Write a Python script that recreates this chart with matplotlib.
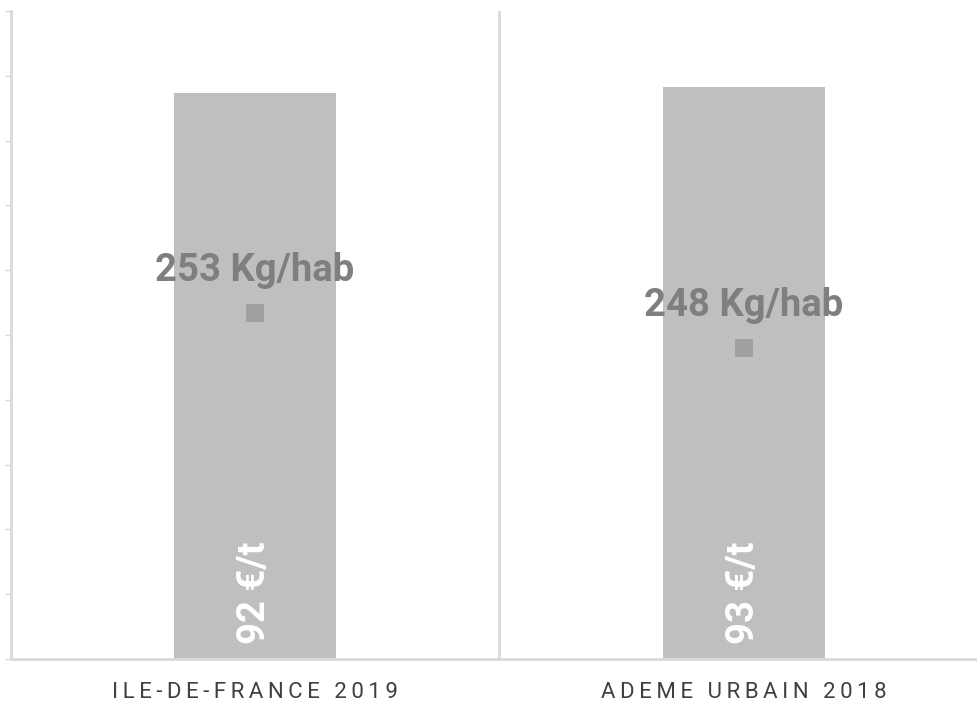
import matplotlib.pyplot as plt
import numpy as np

categories = ['ILE-DE-FRANCE 2019', 'ADEME URBAIN 2018']
cost_per_t = [92, 93]          # bars, €/t
kg_per_hab = [253, 248]        # square markers, Kg/hab

bar_color = '#bfbfbf'
marker_color = '#a0a0a0'
label_color = '#7f7f7f'
axis_color = '#d9d9d9'


def spaced(s):
    return '\u2009'.join(s)


fig = plt.figure(figsize=(9.78, 7.03), dpi=100)
ax = fig.add_axes([10.5 / 978, 44 / 703, 978 / 978, 648 / 703])

x = np.arange(len(categories))
ax.bar(x, cost_per_t, width=0.33, color=bar_color, zorder=2)
ax.set_xlim(-0.5, 1.5)
ax.set_ylim(0, 105.4)
ax.set_yticks(np.linspace(0, 105.4, 11))
ax.set_yticklabels([])
ax.tick_params(axis='y', length=4, width=1, color=axis_color)

for xi, v in zip(x, cost_per_t):
    ax.text(xi, 2.4, f'{v} €/t', rotation=90, ha='center', va='bottom',
            color='white', fontsize=27.5, fontweight='bold',
            family=['Roboto', 'DejaVu Sans'], zorder=4)

ax.set_xticks(x)
ax.set_xticklabels([spaced(c) for c in categories], color='#404040', fontsize=16,
                   family=['Roboto', 'DejaVu Sans'])
ax.tick_params(axis='x', length=0, pad=16.5)

for side in ['top', 'right']:
    ax.spines[side].set_visible(False)
for side in ['left', 'bottom']:
    ax.spines[side].set_color(axis_color)
    ax.spines[side].set_linewidth(2)
ax.axvline(0.5, color=axis_color, lw=2, zorder=1)

ax2 = ax.twinx()
ax2.set_ylim(203.6, 296.2)
ax2.scatter(x, kg_per_hab, marker='s', s=170, color=marker_color, linewidths=0, zorder=5)
for xi, v in zip(x, kg_per_hab):
    ax2.annotate(f'{v} Kg/hab', (xi, v), xytext=(0, 31), textcoords='offset points',
                 ha='center', va='center', color=label_color, fontsize=27.5,
                 fontweight='bold', family=['Roboto', 'DejaVu Sans'])
ax2.axis('off')

fig.savefig('out.png', dpi=100, facecolor='white')
